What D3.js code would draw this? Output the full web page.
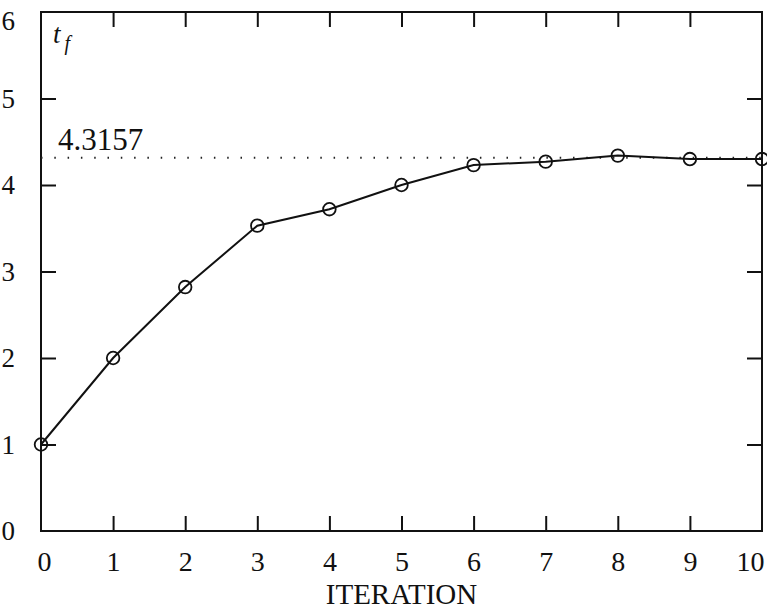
<!DOCTYPE html>
<html>
<head>
<meta charset="utf-8">
<script src="https://d3js.org/d3.v7.min.js"></script>
<style>
body { margin: 0; background: #fff; }
text { font-family: "Liberation Serif", "DejaVu Serif", serif; fill: #111; }
</style>
</head>
<body>
<div id="chart"></div>
<script>
// iteration number and t_f value at each one
var iterations = [0, 1, 2, 3, 4, 5, 6, 7, 8, 9, 10];
var tfValues = [1.0, 2.0, 2.82, 3.53, 3.72, 4.00, 4.23, 4.27, 4.34, 4.30, 4.30];
var converged = 4.3157;
var yTicks = [0, 1, 2, 3, 4, 5, 6];
var xTicks = [0, 1, 2, 3, 4, 5, 6, 7, 8, 9, 10];

var W = 767, H = 613;
var margin = {top: 12, right: 5, bottom: 82, left: 41};
var width = W - margin.left - margin.right,
    height = H - margin.top - margin.bottom;

var svg = d3.select("#chart").append("svg")
    .attr("width", W).attr("height", H)
  .append("g")
    .attr("transform", "translate(" + margin.left + "," + margin.top + ")");

var x = d3.scaleLinear().domain([0, 10]).range([0, width]);
var y = d3.scaleLinear().domain([0, 6]).range([height, 0]);

// frame
svg.append("rect")
  .attr("width", width).attr("height", height)
  .attr("fill", "none").attr("stroke", "#111").attr("stroke-width", 2);

// inward ticks on all four sides
var tk = 15;
function drawAxis(axis, tr, labels) {
  var g = svg.append("g").attr("transform", tr).call(axis);
  g.select(".domain").remove();
  g.selectAll(".tick line").attr("stroke", "#111").attr("stroke-width", 2);
  if (!labels) g.selectAll(".tick text").remove();
  return g;
}
var bx = drawAxis(d3.axisBottom(x).tickValues(xTicks).tickSize(-tk).tickPadding(tk + 5).tickFormat(d3.format("d")),
  "translate(0," + height + ")", true);
drawAxis(d3.axisTop(x).tickValues(xTicks.slice(1, -1)).tickSize(-tk), "translate(0,0)", false);
var ly = drawAxis(d3.axisLeft(y).tickValues(yTicks).tickSize(-tk).tickPadding(tk + 11).tickFormat(d3.format("d")),
  "translate(0,0)", true);
drawAxis(d3.axisRight(y).tickValues(yTicks.slice(1, -1)).tickSize(-tk), "translate(" + width + ",0)", false);
bx.selectAll(".tick line").filter(function(d) { return d === 0 || d === 10; }).remove();
ly.selectAll(".tick line").filter(function(d) { return d === 0 || d === 6; }).remove();
bx.selectAll(".tick text").attr("font-size", 28);
ly.selectAll(".tick text").attr("font-size", 27);
ly.selectAll(".tick text").filter(function(d) { return d === 6; }).attr("dy", "0.65em");
bx.selectAll(".tick text").filter(function(d) { return d === 0; }).attr("dx", 3);
bx.selectAll(".tick text").filter(function(d) { return d === 10; })
  .attr("text-anchor", "end").attr("dx", 2);

// converged value reference line
svg.append("line")
  .attr("x1", x(0)).attr("x2", x(10))
  .attr("y1", y(converged)).attr("y2", y(converged))
  .attr("stroke", "#222").attr("stroke-width", 2)
  .attr("stroke-dasharray", "1.5,11.8");
svg.append("text")
  .attr("x", 17).attr("y", y(converged) - 8)
  .attr("font-size", 31)
  .text(converged.toFixed(4));

// line + circles
var line = d3.line()
  .x(function(d, i) { return x(iterations[i]); })
  .y(function(d) { return y(d); });
svg.append("path")
  .datum(tfValues)
  .attr("d", line)
  .attr("fill", "none").attr("stroke", "#111").attr("stroke-width", 2);
svg.selectAll("circle.pt")
  .data(tfValues)
  .enter().append("circle")
    .attr("class", "pt")
    .attr("cx", function(d, i) { return x(iterations[i]); })
    .attr("cy", function(d) { return y(d); })
    .attr("r", 6.3)
    .attr("fill", "none").attr("stroke", "#111").attr("stroke-width", 1.8);

// labels
var tl = svg.append("text")
  .attr("x", 12).attr("y", 31)
  .attr("font-size", 27).attr("font-style", "italic");
tl.append("tspan").text("t");
tl.append("tspan").attr("font-size", 20).attr("dx", 4).attr("dy", 7).text("f");

svg.append("text")
  .attr("x", x(5)).attr("y", height + 73)
  .attr("text-anchor", "middle").attr("font-size", 29)
  .text("ITERATION");
</script>
</body>
</html>
